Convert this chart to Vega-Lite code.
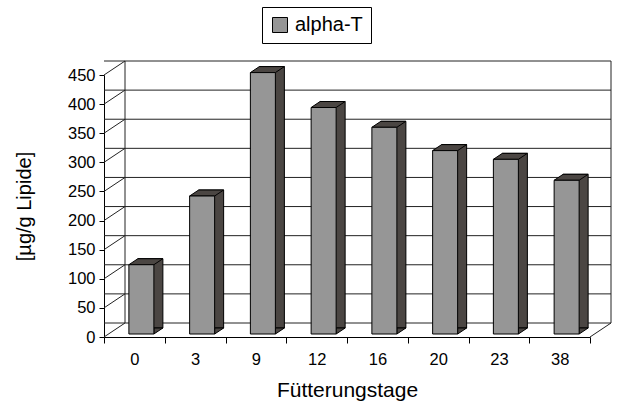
{
  "$schema": "https://vega.github.io/schema/vega-lite/v6.json",
  "autosize": {"type": "none"},
  "padding": {"left": 104, "top": 75, "right": 30, "bottom": 66},
  "width": 486,
  "height": 262,
  "background": "white",
  "config": {
    "view": {"stroke": null},
    "font": "Liberation Sans",
    "axis": {"labelFont": "Liberation Sans", "titleFont": "Liberation Sans", "labelColor": "black", "titleColor": "black", "domainColor": "black", "tickColor": "black", "titleFontWeight": "normal", "grid": false, "labelOverlap": false},
    "axisX": {"labelFontSize": 16.5, "titleFontSize": 21, "tickSize": 6, "labelPadding": 8, "titlePadding": 12, "labelAngle": 0, "tickBand": "extent"},
    "axisY": {"labelFontSize": 16.5, "titleFontSize": 20, "tickSize": 5, "labelPadding": 4, "titlePadding": 33, "labelBound": false, "tickCount": 10},
    "legend": {"labelFont": "Liberation Sans"}
  },
  "datasets": {
    "werte": [
      {"Tag": 0, "Wert": 119},
      {"Tag": 3, "Wert": 237},
      {"Tag": 9, "Wert": 449},
      {"Tag": 12, "Wert": 389},
      {"Tag": 16, "Wert": 355},
      {"Tag": 20, "Wert": 315},
      {"Tag": 23, "Wert": 300},
      {"Tag": 38, "Wert": 264}
    ],
    "raster": [{"v": 0}, {"v": 50}, {"v": 100}, {"v": 150}, {"v": 200}, {"v": 250}, {"v": 300}, {"v": 350}, {"v": 400}, {"v": 450}],
    "eins": [{"k": 1}]
  },
  "layer": [
    {
      "data": {"name": "raster"},
      "mark": {"type": "rule", "color": "#222", "strokeWidth": 1, "xOffset": 21, "x2Offset": 21, "yOffset": -14},
      "encoding": {
        "y": {"field": "v", "type": "quantitative", "scale": {"domain": [0, 450], "nice": false}, "title": "[µg/g Lipide]", "axis": {"values": [0, 50, 100, 150, 200, 250, 300, 350, 400, 450], "labelOverlap": false}}
      }
    },
    {
      "data": {"name": "raster"},
      "mark": {"type": "rule", "color": "#222", "strokeWidth": 1, "x2Offset": 21, "y2Offset": -14},
      "encoding": {
        "x": {"datum": 0, "type": "ordinal", "bandPosition": 0, "title": "Fütterungstage"},
        "x2": {"datum": 0, "bandPosition": 0},
        "y": {"field": "v", "type": "quantitative", "scale": {"domain": [0, 450], "nice": false}, "title": "[µg/g Lipide]", "axis": {"values": [0, 50, 100, 150, 200, 250, 300, 350, 400, 450], "labelOverlap": false}},
        "y2": {"field": "v"}
      }
    },
    {
      "data": {"name": "eins"},
      "mark": {"type": "rule", "color": "#222", "strokeWidth": 1, "xOffset": 21, "yOffset": -14, "y2Offset": -14},
      "encoding": {
        "x": {"datum": 0, "type": "ordinal", "bandPosition": 0, "title": "Fütterungstage"},
        "y": {"datum": 0, "type": "quantitative", "scale": {"domain": [0, 450], "nice": false}, "title": "[µg/g Lipide]", "axis": {"values": [0, 50, 100, 150, 200, 250, 300, 350, 400, 450], "labelOverlap": false}},
        "y2": {"datum": 450}
      }
    },
    {
      "data": {"name": "eins"},
      "mark": {"type": "rule", "color": "#222", "strokeWidth": 1, "xOffset": 21, "yOffset": -14, "y2Offset": -14},
      "encoding": {
        "x": {"datum": 38, "type": "ordinal", "bandPosition": 1, "title": "Fütterungstage"},
        "y": {"datum": 0, "type": "quantitative", "scale": {"domain": [0, 450], "nice": false}, "title": "[µg/g Lipide]", "axis": {"values": [0, 50, 100, 150, 200, 250, 300, 350, 400, 450], "labelOverlap": false}},
        "y2": {"datum": 450}
      }
    },
    {
      "data": {"name": "eins"},
      "mark": {"type": "rule", "color": "#222", "strokeWidth": 1, "x2Offset": 21, "y2Offset": -14},
      "encoding": {
        "x": {"datum": 38, "type": "ordinal", "bandPosition": 1, "title": "Fütterungstage"},
        "x2": {"datum": 38, "bandPosition": 1},
        "y": {"datum": 0, "type": "quantitative", "scale": {"domain": [0, 450], "nice": false}, "title": "[µg/g Lipide]", "axis": {"values": [0, 50, 100, 150, 200, 250, 300, 350, 400, 450], "labelOverlap": false}},
        "y2": {"datum": 0}
      }
    },
    {
      "data": {"name": "werte"},
      "mark": {"type": "bar", "width": 25, "fill": "#4b4643", "stroke": "black", "strokeWidth": 1, "xOffset": 16, "yOffset": -9, "y2Offset": -9},
      "encoding": {
        "x": {"field": "Tag", "type": "ordinal", "title": "Fütterungstage"},
        "y": {"field": "Wert", "type": "quantitative", "scale": {"domain": [0, 450], "nice": false}, "title": "[µg/g Lipide]", "axis": {"values": [0, 50, 100, 150, 200, 250, 300, 350, 400, 450], "labelOverlap": false}},
        "y2": {"datum": 0}
      }
    },
    {
      "data": {"name": "werte"},
      "mark": {"type": "point", "filled": true, "shape": "M12.5,0L21.5,-6L12.5,-6Z", "size": 4, "fill": "#4b4643", "stroke": "black", "strokeWidth": 1, "opacity": 1, "xOffset": 7, "yOffset": -3},
      "encoding": {
        "x": {"field": "Tag", "type": "ordinal", "title": "Fütterungstage"},
        "y": {"datum": 0, "type": "quantitative", "scale": {"domain": [0, 450], "nice": false}, "title": "[µg/g Lipide]", "axis": {"values": [0, 50, 100, 150, 200, 250, 300, 350, 400, 450], "labelOverlap": false}}
      }
    },
    {
      "data": {"name": "werte"},
      "mark": {"type": "point", "filled": true, "shape": "M-12.5,0L12.5,0L21.5,-6L-3.5,-6Z", "size": 4, "fill": "#4b4643", "stroke": "black", "strokeWidth": 1, "opacity": 1, "xOffset": 7, "yOffset": -3},
      "encoding": {
        "x": {"field": "Tag", "type": "ordinal", "title": "Fütterungstage"},
        "y": {"field": "Wert", "type": "quantitative", "scale": {"domain": [0, 450], "nice": false}, "title": "[µg/g Lipide]", "axis": {"values": [0, 50, 100, 150, 200, 250, 300, 350, 400, 450], "labelOverlap": false}}
      }
    },
    {
      "data": {"name": "werte"},
      "mark": {"type": "bar", "width": 25, "stroke": "black", "strokeWidth": 1, "xOffset": 7, "yOffset": -3, "y2Offset": -3},
      "encoding": {
        "x": {"field": "Tag", "type": "ordinal", "title": "Fütterungstage", "scale": {"type": "band", "paddingInner": 0, "paddingOuter": 0}},
        "y": {"field": "Wert", "type": "quantitative", "scale": {"domain": [0, 450], "nice": false}, "title": "[µg/g Lipide]", "axis": {"values": [0, 50, 100, 150, 200, 250, 300, 350, 400, 450], "labelOverlap": false}},
        "y2": {"datum": 0},
        "color": {
          "datum": "alpha-T",
          "scale": {"range": ["#969696"]},
          "legend": {"orient": "none", "legendX": 158, "legendY": -68, "title": null, "symbolType": "square", "symbolSize": 225, "symbolStrokeColor": "black", "symbolStrokeWidth": 1, "symbolFillColor": "#969696", "labelFontSize": 20, "labelColor": "black", "labelOffset": 5, "padding": 8, "strokeColor": "black", "fillColor": "white", "cornerRadius": 0}
        }
      }
    }
  ]
}
